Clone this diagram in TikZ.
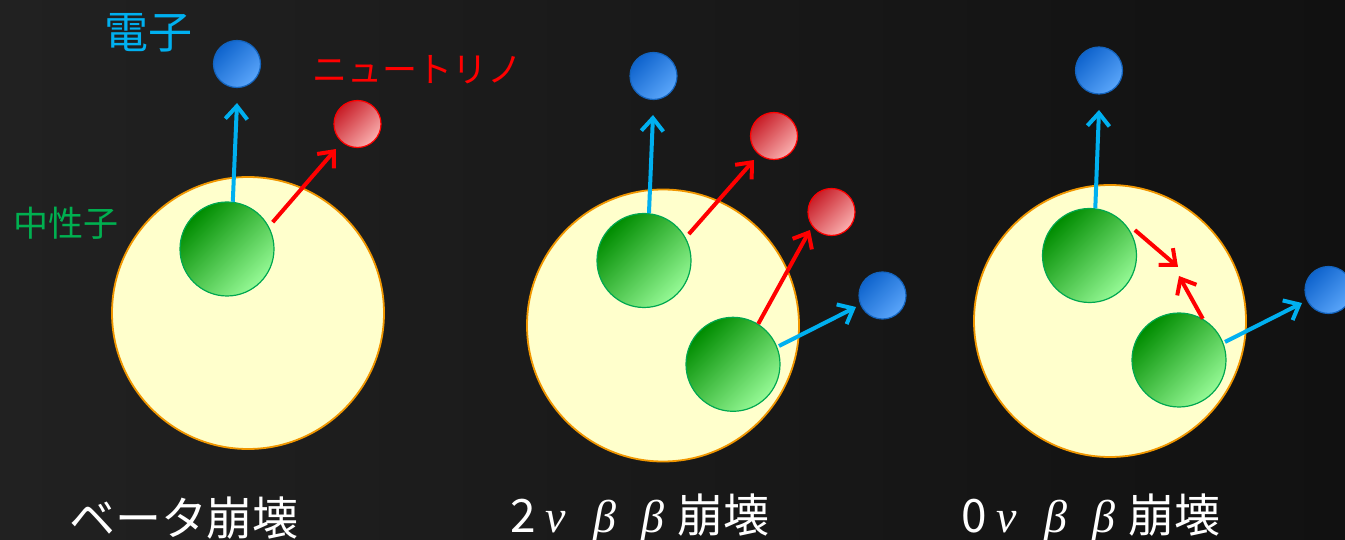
\documentclass[tikz,border=0pt]{standalone}
\usepackage{fontspec}
\newfontfamily\jp{Noto Sans CJK JP}
\newfontfamily\gk{Liberation Serif}
\usetikzlibrary{arrows.meta,calc}
\definecolor{bgL}{RGB}{33,33,33}
\definecolor{bgD}{RGB}{17,17,17}
\definecolor{nucFill}{RGB}{255,255,204}
\definecolor{nucLine}{RGB}{240,150,0}
\definecolor{ngD}{RGB}{0,140,0}
\definecolor{ngM}{RGB}{0,205,0}
\definecolor{ngL}{RGB}{150,250,150}
\definecolor{ngB}{RGB}{0,168,80}
\definecolor{eD}{RGB}{15,100,205}
\definecolor{eL}{RGB}{90,165,250}
\definecolor{eB}{RGB}{20,100,190}
\definecolor{rD}{RGB}{200,30,40}
\definecolor{rL}{RGB}{250,175,175}
\definecolor{rB}{RGB}{255,0,0}
\definecolor{aBlue}{RGB}{0,176,240}
\definecolor{aRed}{RGB}{255,0,0}
\definecolor{tGreen}{RGB}{0,176,80}
\newcommand\dbcap[1]{#1\hspace{10pt}{\gk\itshape ν}\hspace{27pt}{\gk\itshape β}\hspace{25pt}{\gk\itshape β}\hspace{14pt}崩壊}
\begin{document}
\begin{tikzpicture}[x=1pt,y=-1pt,
  nucleus/.style={circle,draw=nucLine,fill=nucFill,line width=1.8pt,minimum size=272pt,inner sep=0pt},
  neutron/.style={circle,draw=ngB,line width=1.2pt,minimum size=94pt,inner sep=0pt,
    top color=ngD,middle color=ngM,bottom color=ngL,shading angle=45},
  electron/.style={circle,draw=eB,line width=1.2pt,minimum size=47pt,inner sep=0pt,
    top color=eD,bottom color=eL,shading angle=45},
  neutrino/.style={circle,draw=rB,line width=1.2pt,minimum size=47pt,inner sep=0pt,
    top color=rD,bottom color=rL,shading angle=45},
  barrow/.style={draw=aBlue,line width=4pt,-{Straight Barb[length=13pt,width=22pt]}},
  rarrow/.style={draw=aRed,line width=4pt,-{Straight Barb[length=13pt,width=22pt]}},
  lab/.style={inner sep=0pt,font=\jp\fontsize{44}{50}\selectfont},
  slab/.style={inner sep=0pt,font=\jp\fontsize{35}{42}\selectfont},
  blab/.style={inner sep=0pt,text=white,font=\jp\fontsize{46}{52}\selectfont}]
\shade[left color=bgL,right color=bgD] (0,0) rectangle (1345,540);
\useasboundingbox (0,0) rectangle (1345,540);

% ---------- panel 1 ----------
\node[nucleus] (nuc1) at (248,313) {};
\node[neutron] (n11) at (227,249) {};
\node[electron] (e11) at (237,64) {};
\node[neutrino] (v11) at (357.5,124) {};
\coordinate (t1b) at (237,103);
\coordinate (t1r) at (336,149);
\draw[barrow] (n11.83) -- (t1b);
\draw[rarrow] ($(n11.center)+(30.4:53pt)$) -- (t1r);
\node[lab,text=aBlue] (lE) at (148,33) {電子};
\node[slab,text=aRed] (lV) at (417,70) {ニュートリノ};
\node[slab,text=tGreen] (lN) at (66,223) {中性子};

% ---------- panel 2 ----------
\node[nucleus] (nuc2) at (663,325.5) {};
\node[neutron] (n21) at (644,260.5) {};
\node[neutron] (n22) at (733,364.3) {};
\node[electron] (e21) at (653.5,76) {};
\node[neutrino] (v21) at (774,136) {};
\node[neutrino] (v22) at (831.5,212) {};
\node[electron] (e22) at (882.5,295.5) {};
\coordinate (t2b1) at (653,115);
\coordinate (t2r1) at (754,160);
\coordinate (t2r2) at (810,230);
\coordinate (t2b2) at (856,307);
\draw[barrow] (n21.84) -- (t2b1);
\draw[rarrow] ($(n21.center)+(30.5:52pt)$) -- (t2r1);
\draw[rarrow] (n22.58.6) -- (t2r2);
\draw[barrow] ($(n22.center)+(21.7:49.5pt)$) -- (t2b2);

% ---------- panel 3 ----------
\node[nucleus] (nuc3) at (1110,321) {};
\node[neutron] (n31) at (1089.5,255.5) {};
\node[neutron] (n32) at (1179,360) {};
\node[electron] (e31) at (1099,70.5) {};
\node[electron] (e32) at (1328.5,290) {};
\coordinate (t3b1) at (1099,110);
\coordinate (t3r1) at (1178,267);
\coordinate (t3r2) at (1179,276);
\coordinate (t3b2) at (1302,303);
\draw[barrow] (n31.83.4) -- (t3b1);
\draw[rarrow] ($(n31.center)+(29.3:52pt)$) -- (t3r1);
\draw[rarrow] (n32.60.8) -- (t3r2);
\draw[barrow] ($(n32.center)+(21.4:49.4pt)$) -- (t3b2);

% ---------- captions ----------
\node[blab] (c1) at (184,518) {ベータ崩壊};
\node[blab,anchor=west] (c2) at (510,518) {\dbcap{2}};
\node[blab,anchor=west] (c3) at (961,518) {\dbcap{0}};
\end{tikzpicture}
\end{document}
